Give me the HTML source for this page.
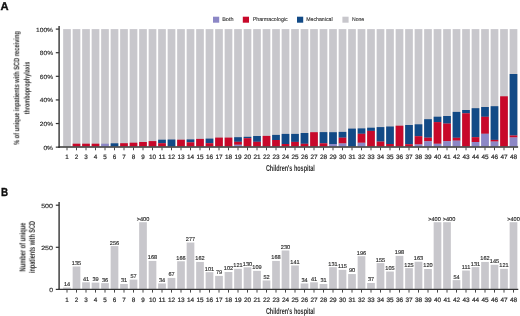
<!DOCTYPE html>
<html><head><meta charset="utf-8"><style>
html,body{margin:0;padding:0;background:#fff;}
body{width:520px;height:316px;overflow:hidden;}
svg{display:block;font-family:"Liberation Sans",sans-serif;}
text{will-change:transform;text-rendering:geometricPrecision;}
</style></head><body>
<svg width="520" height="316" viewBox="0 0 520 316">
<text x="0.50" y="9.90" font-size="11.2" text-anchor="start" font-weight="bold" fill="#111" stroke="#111" stroke-width="0.35">A</text>
<text x="0.90" y="195.60" font-size="11.6" text-anchor="start" font-weight="bold" fill="#111" stroke="#111" stroke-width="0.35" textLength="7.10" lengthAdjust="spacingAndGlyphs">B</text>
<rect x="213.00" y="16.70" width="6.20" height="6.00" fill="#8c87c6"/>
<text x="222.20" y="21.30" font-size="5.4" text-anchor="start" font-weight="normal" fill="#2e2e2e" stroke="#2e2e2e" stroke-width="0.1" textLength="11.30" lengthAdjust="spacingAndGlyphs">Both</text>
<rect x="242.80" y="16.70" width="6.20" height="6.00" fill="#c8082a"/>
<text x="252.70" y="21.30" font-size="5.4" text-anchor="start" font-weight="normal" fill="#2e2e2e" stroke="#2e2e2e" stroke-width="0.1" textLength="35.00" lengthAdjust="spacingAndGlyphs">Pharmacologic</text>
<rect x="297.00" y="16.70" width="6.20" height="6.00" fill="#124a86"/>
<text x="306.20" y="21.30" font-size="5.4" text-anchor="start" font-weight="normal" fill="#2e2e2e" stroke="#2e2e2e" stroke-width="0.1" textLength="26.40" lengthAdjust="spacingAndGlyphs">Mechanical</text>
<rect x="342.40" y="16.70" width="6.20" height="6.00" fill="#c8c7cc"/>
<text x="352.00" y="21.30" font-size="5.4" text-anchor="start" font-weight="normal" fill="#2e2e2e" stroke="#2e2e2e" stroke-width="0.1" textLength="12.20" lengthAdjust="spacingAndGlyphs">None</text>
<rect x="63.15" y="29.10" width="7.70" height="117.30" fill="#c8c7cc"/>
<rect x="72.65" y="29.10" width="7.70" height="117.30" fill="#c8c7cc"/>
<rect x="72.65" y="143.70" width="7.70" height="2.70" fill="#c8082a"/>
<rect x="82.15" y="29.10" width="7.70" height="117.30" fill="#c8c7cc"/>
<rect x="82.15" y="143.70" width="7.70" height="2.70" fill="#c8082a"/>
<rect x="91.65" y="29.10" width="7.70" height="117.30" fill="#c8c7cc"/>
<rect x="91.65" y="143.70" width="7.70" height="2.70" fill="#c8082a"/>
<rect x="101.15" y="29.10" width="7.70" height="117.30" fill="#c8c7cc"/>
<rect x="101.15" y="143.70" width="7.70" height="2.70" fill="#8c87c6"/>
<rect x="110.65" y="29.10" width="7.70" height="117.30" fill="#c8c7cc"/>
<rect x="110.65" y="143.30" width="7.70" height="3.10" fill="#124a86"/>
<rect x="120.15" y="29.10" width="7.70" height="117.30" fill="#c8c7cc"/>
<rect x="120.15" y="143.20" width="7.70" height="3.20" fill="#c8082a"/>
<rect x="129.65" y="29.10" width="7.70" height="117.30" fill="#c8c7cc"/>
<rect x="129.65" y="142.70" width="7.70" height="3.70" fill="#c8082a"/>
<rect x="139.15" y="29.10" width="7.70" height="117.30" fill="#c8c7cc"/>
<rect x="139.15" y="142.00" width="7.70" height="4.40" fill="#c8082a"/>
<rect x="148.65" y="29.10" width="7.70" height="117.30" fill="#c8c7cc"/>
<rect x="148.65" y="141.10" width="7.70" height="5.30" fill="#c8082a"/>
<rect x="158.15" y="29.10" width="7.70" height="117.30" fill="#c8c7cc"/>
<rect x="158.15" y="139.70" width="7.70" height="3.50" fill="#124a86"/>
<rect x="158.15" y="143.20" width="7.70" height="3.20" fill="#c8082a"/>
<rect x="167.65" y="29.10" width="7.70" height="117.30" fill="#c8c7cc"/>
<rect x="167.65" y="139.50" width="7.70" height="6.90" fill="#124a86"/>
<rect x="177.15" y="29.10" width="7.70" height="117.30" fill="#c8c7cc"/>
<rect x="177.15" y="139.70" width="7.70" height="6.70" fill="#c8082a"/>
<rect x="186.65" y="29.10" width="7.70" height="117.30" fill="#c8c7cc"/>
<rect x="186.65" y="139.40" width="7.70" height="2.90" fill="#124a86"/>
<rect x="186.65" y="142.30" width="7.70" height="4.10" fill="#c8082a"/>
<rect x="196.15" y="29.10" width="7.70" height="117.30" fill="#c8c7cc"/>
<rect x="196.15" y="138.90" width="7.70" height="7.50" fill="#c8082a"/>
<rect x="205.65" y="29.10" width="7.70" height="117.30" fill="#c8c7cc"/>
<rect x="205.65" y="138.60" width="7.70" height="4.60" fill="#124a86"/>
<rect x="205.65" y="143.20" width="7.70" height="3.20" fill="#c8082a"/>
<rect x="215.15" y="29.10" width="7.70" height="117.30" fill="#c8c7cc"/>
<rect x="215.15" y="137.60" width="7.70" height="8.80" fill="#c8082a"/>
<rect x="224.65" y="29.10" width="7.70" height="117.30" fill="#c8c7cc"/>
<rect x="224.65" y="137.60" width="7.70" height="8.80" fill="#c8082a"/>
<rect x="234.15" y="29.10" width="7.70" height="117.30" fill="#c8c7cc"/>
<rect x="234.15" y="137.20" width="7.70" height="4.60" fill="#124a86"/>
<rect x="234.15" y="141.80" width="7.70" height="3.00" fill="#c8082a"/>
<rect x="234.15" y="144.80" width="7.70" height="1.60" fill="#8c87c6"/>
<rect x="243.65" y="29.10" width="7.70" height="117.30" fill="#c8c7cc"/>
<rect x="243.65" y="136.80" width="7.70" height="1.40" fill="#124a86"/>
<rect x="243.65" y="138.20" width="7.70" height="8.20" fill="#c8082a"/>
<rect x="253.15" y="29.10" width="7.70" height="117.30" fill="#c8c7cc"/>
<rect x="253.15" y="136.00" width="7.70" height="5.80" fill="#124a86"/>
<rect x="253.15" y="141.80" width="7.70" height="4.60" fill="#c8082a"/>
<rect x="262.65" y="29.10" width="7.70" height="117.30" fill="#c8c7cc"/>
<rect x="262.65" y="135.90" width="7.70" height="10.50" fill="#c8082a"/>
<rect x="272.15" y="29.10" width="7.70" height="117.30" fill="#c8c7cc"/>
<rect x="272.15" y="134.90" width="7.70" height="5.10" fill="#124a86"/>
<rect x="272.15" y="140.00" width="7.70" height="6.40" fill="#c8082a"/>
<rect x="281.65" y="29.10" width="7.70" height="117.30" fill="#c8c7cc"/>
<rect x="281.65" y="133.90" width="7.70" height="10.10" fill="#124a86"/>
<rect x="281.65" y="144.00" width="7.70" height="2.40" fill="#c8082a"/>
<rect x="291.15" y="29.10" width="7.70" height="117.30" fill="#c8c7cc"/>
<rect x="291.15" y="133.90" width="7.70" height="8.00" fill="#124a86"/>
<rect x="291.15" y="141.90" width="7.70" height="4.50" fill="#c8082a"/>
<rect x="300.65" y="29.10" width="7.70" height="117.30" fill="#c8c7cc"/>
<rect x="300.65" y="133.00" width="7.70" height="10.80" fill="#124a86"/>
<rect x="300.65" y="143.80" width="7.70" height="2.60" fill="#c8082a"/>
<rect x="310.15" y="29.10" width="7.70" height="117.30" fill="#c8c7cc"/>
<rect x="310.15" y="132.20" width="7.70" height="14.20" fill="#c8082a"/>
<rect x="319.65" y="29.10" width="7.70" height="117.30" fill="#c8c7cc"/>
<rect x="319.65" y="132.10" width="7.70" height="11.20" fill="#124a86"/>
<rect x="319.65" y="143.30" width="7.70" height="3.10" fill="#c8082a"/>
<rect x="329.15" y="29.10" width="7.70" height="117.30" fill="#c8c7cc"/>
<rect x="329.15" y="132.20" width="7.70" height="11.80" fill="#124a86"/>
<rect x="329.15" y="144.00" width="7.70" height="2.40" fill="#8c87c6"/>
<rect x="338.65" y="29.10" width="7.70" height="117.30" fill="#c8c7cc"/>
<rect x="338.65" y="131.90" width="7.70" height="5.80" fill="#124a86"/>
<rect x="338.65" y="137.70" width="7.70" height="5.80" fill="#c8082a"/>
<rect x="338.65" y="143.50" width="7.70" height="2.90" fill="#8c87c6"/>
<rect x="348.15" y="29.10" width="7.70" height="117.30" fill="#c8c7cc"/>
<rect x="348.15" y="128.60" width="7.70" height="17.80" fill="#124a86"/>
<rect x="357.65" y="29.10" width="7.70" height="117.30" fill="#c8c7cc"/>
<rect x="357.65" y="128.40" width="7.70" height="5.40" fill="#124a86"/>
<rect x="357.65" y="133.80" width="7.70" height="9.00" fill="#c8082a"/>
<rect x="357.65" y="142.80" width="7.70" height="3.60" fill="#8c87c6"/>
<rect x="367.15" y="29.10" width="7.70" height="117.30" fill="#c8c7cc"/>
<rect x="367.15" y="127.70" width="7.70" height="3.20" fill="#124a86"/>
<rect x="367.15" y="130.90" width="7.70" height="15.50" fill="#c8082a"/>
<rect x="376.65" y="29.10" width="7.70" height="117.30" fill="#c8c7cc"/>
<rect x="376.65" y="127.10" width="7.70" height="14.50" fill="#124a86"/>
<rect x="376.65" y="141.60" width="7.70" height="4.80" fill="#c8082a"/>
<rect x="386.15" y="29.10" width="7.70" height="117.30" fill="#c8c7cc"/>
<rect x="386.15" y="126.50" width="7.70" height="17.50" fill="#124a86"/>
<rect x="386.15" y="144.00" width="7.70" height="2.40" fill="#c8082a"/>
<rect x="395.65" y="29.10" width="7.70" height="117.30" fill="#c8c7cc"/>
<rect x="395.65" y="125.70" width="7.70" height="20.70" fill="#c8082a"/>
<rect x="405.15" y="29.10" width="7.70" height="117.30" fill="#c8c7cc"/>
<rect x="405.15" y="125.00" width="7.70" height="19.20" fill="#124a86"/>
<rect x="405.15" y="144.20" width="7.70" height="2.20" fill="#c8082a"/>
<rect x="414.65" y="29.10" width="7.70" height="117.30" fill="#c8c7cc"/>
<rect x="414.65" y="124.30" width="7.70" height="11.90" fill="#124a86"/>
<rect x="414.65" y="136.20" width="7.70" height="8.30" fill="#c8082a"/>
<rect x="414.65" y="144.50" width="7.70" height="1.90" fill="#8c87c6"/>
<rect x="424.15" y="29.10" width="7.70" height="117.30" fill="#c8c7cc"/>
<rect x="424.15" y="119.20" width="7.70" height="18.50" fill="#124a86"/>
<rect x="424.15" y="137.70" width="7.70" height="3.60" fill="#c8082a"/>
<rect x="424.15" y="141.30" width="7.70" height="5.10" fill="#8c87c6"/>
<rect x="433.65" y="29.10" width="7.70" height="117.30" fill="#c8c7cc"/>
<rect x="433.65" y="116.70" width="7.70" height="5.40" fill="#124a86"/>
<rect x="433.65" y="122.10" width="7.70" height="21.70" fill="#c8082a"/>
<rect x="433.65" y="143.80" width="7.70" height="2.60" fill="#8c87c6"/>
<rect x="443.15" y="29.10" width="7.70" height="117.30" fill="#c8c7cc"/>
<rect x="443.15" y="116.00" width="7.70" height="7.60" fill="#124a86"/>
<rect x="443.15" y="123.60" width="7.70" height="17.60" fill="#c8082a"/>
<rect x="443.15" y="141.20" width="7.70" height="5.20" fill="#8c87c6"/>
<rect x="452.65" y="29.10" width="7.70" height="117.30" fill="#c8c7cc"/>
<rect x="452.65" y="111.90" width="7.70" height="25.90" fill="#124a86"/>
<rect x="452.65" y="137.80" width="7.70" height="2.90" fill="#c8082a"/>
<rect x="452.65" y="140.70" width="7.70" height="5.70" fill="#8c87c6"/>
<rect x="462.15" y="29.10" width="7.70" height="117.30" fill="#c8c7cc"/>
<rect x="462.15" y="110.00" width="7.70" height="3.30" fill="#124a86"/>
<rect x="462.15" y="113.30" width="7.70" height="33.10" fill="#c8082a"/>
<rect x="471.65" y="29.10" width="7.70" height="117.30" fill="#c8c7cc"/>
<rect x="471.65" y="108.20" width="7.70" height="29.00" fill="#124a86"/>
<rect x="471.65" y="137.20" width="7.70" height="4.80" fill="#c8082a"/>
<rect x="471.65" y="142.00" width="7.70" height="4.40" fill="#8c87c6"/>
<rect x="481.15" y="29.10" width="7.70" height="117.30" fill="#c8c7cc"/>
<rect x="481.15" y="107.00" width="7.70" height="9.80" fill="#124a86"/>
<rect x="481.15" y="116.80" width="7.70" height="17.00" fill="#c8082a"/>
<rect x="481.15" y="133.80" width="7.70" height="12.60" fill="#8c87c6"/>
<rect x="490.65" y="29.10" width="7.70" height="117.30" fill="#c8c7cc"/>
<rect x="490.65" y="106.20" width="7.70" height="33.70" fill="#124a86"/>
<rect x="490.65" y="139.90" width="7.70" height="1.70" fill="#c8082a"/>
<rect x="490.65" y="141.60" width="7.70" height="4.80" fill="#8c87c6"/>
<rect x="500.15" y="29.10" width="7.70" height="117.30" fill="#c8c7cc"/>
<rect x="500.15" y="96.30" width="7.70" height="50.10" fill="#c8082a"/>
<rect x="509.65" y="29.10" width="7.70" height="117.30" fill="#c8c7cc"/>
<rect x="509.65" y="74.00" width="7.70" height="61.50" fill="#124a86"/>
<rect x="509.65" y="135.50" width="7.70" height="2.00" fill="#c8082a"/>
<rect x="509.65" y="137.50" width="7.70" height="8.90" fill="#8c87c6"/>
<line x1="59.10" y1="26.00" x2="59.10" y2="147.90" stroke="#333" stroke-width="1.4"/>
<line x1="58.40" y1="146.90" x2="518.10" y2="146.90" stroke="#333" stroke-width="1.5"/>
<line x1="55.80" y1="29.10" x2="59.10" y2="29.10" stroke="#333" stroke-width="1.2"/>
<text x="53.00" y="31.50" font-size="6.0" text-anchor="end" font-weight="normal" fill="#2e2e2e" stroke="#2e2e2e" stroke-width="0.15" textLength="17.00" lengthAdjust="spacingAndGlyphs">100%</text>
<line x1="55.80" y1="52.71" x2="59.10" y2="52.71" stroke="#333" stroke-width="1.2"/>
<text x="53.00" y="55.11" font-size="6.0" text-anchor="end" font-weight="normal" fill="#2e2e2e" stroke="#2e2e2e" stroke-width="0.15" textLength="13.20" lengthAdjust="spacingAndGlyphs">80%</text>
<line x1="55.80" y1="76.32" x2="59.10" y2="76.32" stroke="#333" stroke-width="1.2"/>
<text x="53.00" y="78.72" font-size="6.0" text-anchor="end" font-weight="normal" fill="#2e2e2e" stroke="#2e2e2e" stroke-width="0.15" textLength="13.20" lengthAdjust="spacingAndGlyphs">60%</text>
<line x1="55.80" y1="99.93" x2="59.10" y2="99.93" stroke="#333" stroke-width="1.2"/>
<text x="53.00" y="102.33" font-size="6.0" text-anchor="end" font-weight="normal" fill="#2e2e2e" stroke="#2e2e2e" stroke-width="0.15" textLength="13.20" lengthAdjust="spacingAndGlyphs">40%</text>
<line x1="55.80" y1="123.54" x2="59.10" y2="123.54" stroke="#333" stroke-width="1.2"/>
<text x="53.00" y="125.94" font-size="6.0" text-anchor="end" font-weight="normal" fill="#2e2e2e" stroke="#2e2e2e" stroke-width="0.15" textLength="13.20" lengthAdjust="spacingAndGlyphs">20%</text>
<line x1="55.80" y1="147.15" x2="59.10" y2="147.15" stroke="#333" stroke-width="1.2"/>
<text x="53.00" y="149.55" font-size="6.0" text-anchor="end" font-weight="normal" fill="#2e2e2e" stroke="#2e2e2e" stroke-width="0.15" textLength="9.60" lengthAdjust="spacingAndGlyphs">0%</text>
<line x1="67.00" y1="147.60" x2="67.00" y2="150.30" stroke="#333" stroke-width="0.9"/>
<text x="67.00" y="159.10" font-size="6.3" text-anchor="middle" font-weight="normal" fill="#2e2e2e" stroke="#2e2e2e" stroke-width="0.2">1</text>
<line x1="76.50" y1="147.60" x2="76.50" y2="150.30" stroke="#333" stroke-width="0.9"/>
<text x="76.50" y="159.10" font-size="6.3" text-anchor="middle" font-weight="normal" fill="#2e2e2e" stroke="#2e2e2e" stroke-width="0.2">2</text>
<line x1="86.00" y1="147.60" x2="86.00" y2="150.30" stroke="#333" stroke-width="0.9"/>
<text x="86.00" y="159.10" font-size="6.3" text-anchor="middle" font-weight="normal" fill="#2e2e2e" stroke="#2e2e2e" stroke-width="0.2">3</text>
<line x1="95.50" y1="147.60" x2="95.50" y2="150.30" stroke="#333" stroke-width="0.9"/>
<text x="95.50" y="159.10" font-size="6.3" text-anchor="middle" font-weight="normal" fill="#2e2e2e" stroke="#2e2e2e" stroke-width="0.2">4</text>
<line x1="105.00" y1="147.60" x2="105.00" y2="150.30" stroke="#333" stroke-width="0.9"/>
<text x="105.00" y="159.10" font-size="6.3" text-anchor="middle" font-weight="normal" fill="#2e2e2e" stroke="#2e2e2e" stroke-width="0.2">5</text>
<line x1="114.50" y1="147.60" x2="114.50" y2="150.30" stroke="#333" stroke-width="0.9"/>
<text x="114.50" y="159.10" font-size="6.3" text-anchor="middle" font-weight="normal" fill="#2e2e2e" stroke="#2e2e2e" stroke-width="0.2">6</text>
<line x1="124.00" y1="147.60" x2="124.00" y2="150.30" stroke="#333" stroke-width="0.9"/>
<text x="124.00" y="159.10" font-size="6.3" text-anchor="middle" font-weight="normal" fill="#2e2e2e" stroke="#2e2e2e" stroke-width="0.2">7</text>
<line x1="133.50" y1="147.60" x2="133.50" y2="150.30" stroke="#333" stroke-width="0.9"/>
<text x="133.50" y="159.10" font-size="6.3" text-anchor="middle" font-weight="normal" fill="#2e2e2e" stroke="#2e2e2e" stroke-width="0.2">8</text>
<line x1="143.00" y1="147.60" x2="143.00" y2="150.30" stroke="#333" stroke-width="0.9"/>
<text x="143.00" y="159.10" font-size="6.3" text-anchor="middle" font-weight="normal" fill="#2e2e2e" stroke="#2e2e2e" stroke-width="0.2">9</text>
<line x1="152.50" y1="147.60" x2="152.50" y2="150.30" stroke="#333" stroke-width="0.9"/>
<text x="152.50" y="159.10" font-size="6.3" text-anchor="middle" font-weight="normal" fill="#2e2e2e" stroke="#2e2e2e" stroke-width="0.2" textLength="7.20" lengthAdjust="spacingAndGlyphs">10</text>
<line x1="162.00" y1="147.60" x2="162.00" y2="150.30" stroke="#333" stroke-width="0.9"/>
<text x="162.00" y="159.10" font-size="6.3" text-anchor="middle" font-weight="normal" fill="#2e2e2e" stroke="#2e2e2e" stroke-width="0.2" textLength="7.20" lengthAdjust="spacingAndGlyphs">11</text>
<line x1="171.50" y1="147.60" x2="171.50" y2="150.30" stroke="#333" stroke-width="0.9"/>
<text x="171.50" y="159.10" font-size="6.3" text-anchor="middle" font-weight="normal" fill="#2e2e2e" stroke="#2e2e2e" stroke-width="0.2" textLength="7.20" lengthAdjust="spacingAndGlyphs">12</text>
<line x1="181.00" y1="147.60" x2="181.00" y2="150.30" stroke="#333" stroke-width="0.9"/>
<text x="181.00" y="159.10" font-size="6.3" text-anchor="middle" font-weight="normal" fill="#2e2e2e" stroke="#2e2e2e" stroke-width="0.2" textLength="7.20" lengthAdjust="spacingAndGlyphs">13</text>
<line x1="190.50" y1="147.60" x2="190.50" y2="150.30" stroke="#333" stroke-width="0.9"/>
<text x="190.50" y="159.10" font-size="6.3" text-anchor="middle" font-weight="normal" fill="#2e2e2e" stroke="#2e2e2e" stroke-width="0.2" textLength="7.20" lengthAdjust="spacingAndGlyphs">14</text>
<line x1="200.00" y1="147.60" x2="200.00" y2="150.30" stroke="#333" stroke-width="0.9"/>
<text x="200.00" y="159.10" font-size="6.3" text-anchor="middle" font-weight="normal" fill="#2e2e2e" stroke="#2e2e2e" stroke-width="0.2" textLength="7.20" lengthAdjust="spacingAndGlyphs">15</text>
<line x1="209.50" y1="147.60" x2="209.50" y2="150.30" stroke="#333" stroke-width="0.9"/>
<text x="209.50" y="159.10" font-size="6.3" text-anchor="middle" font-weight="normal" fill="#2e2e2e" stroke="#2e2e2e" stroke-width="0.2" textLength="7.20" lengthAdjust="spacingAndGlyphs">16</text>
<line x1="219.00" y1="147.60" x2="219.00" y2="150.30" stroke="#333" stroke-width="0.9"/>
<text x="219.00" y="159.10" font-size="6.3" text-anchor="middle" font-weight="normal" fill="#2e2e2e" stroke="#2e2e2e" stroke-width="0.2" textLength="7.20" lengthAdjust="spacingAndGlyphs">17</text>
<line x1="228.50" y1="147.60" x2="228.50" y2="150.30" stroke="#333" stroke-width="0.9"/>
<text x="228.50" y="159.10" font-size="6.3" text-anchor="middle" font-weight="normal" fill="#2e2e2e" stroke="#2e2e2e" stroke-width="0.2" textLength="7.20" lengthAdjust="spacingAndGlyphs">18</text>
<line x1="238.00" y1="147.60" x2="238.00" y2="150.30" stroke="#333" stroke-width="0.9"/>
<text x="238.00" y="159.10" font-size="6.3" text-anchor="middle" font-weight="normal" fill="#2e2e2e" stroke="#2e2e2e" stroke-width="0.2" textLength="7.20" lengthAdjust="spacingAndGlyphs">19</text>
<line x1="247.50" y1="147.60" x2="247.50" y2="150.30" stroke="#333" stroke-width="0.9"/>
<text x="247.50" y="159.10" font-size="6.3" text-anchor="middle" font-weight="normal" fill="#2e2e2e" stroke="#2e2e2e" stroke-width="0.2" textLength="7.20" lengthAdjust="spacingAndGlyphs">20</text>
<line x1="257.00" y1="147.60" x2="257.00" y2="150.30" stroke="#333" stroke-width="0.9"/>
<text x="257.00" y="159.10" font-size="6.3" text-anchor="middle" font-weight="normal" fill="#2e2e2e" stroke="#2e2e2e" stroke-width="0.2" textLength="7.20" lengthAdjust="spacingAndGlyphs">21</text>
<line x1="266.50" y1="147.60" x2="266.50" y2="150.30" stroke="#333" stroke-width="0.9"/>
<text x="266.50" y="159.10" font-size="6.3" text-anchor="middle" font-weight="normal" fill="#2e2e2e" stroke="#2e2e2e" stroke-width="0.2" textLength="7.20" lengthAdjust="spacingAndGlyphs">22</text>
<line x1="276.00" y1="147.60" x2="276.00" y2="150.30" stroke="#333" stroke-width="0.9"/>
<text x="276.00" y="159.10" font-size="6.3" text-anchor="middle" font-weight="normal" fill="#2e2e2e" stroke="#2e2e2e" stroke-width="0.2" textLength="7.20" lengthAdjust="spacingAndGlyphs">23</text>
<line x1="285.50" y1="147.60" x2="285.50" y2="150.30" stroke="#333" stroke-width="0.9"/>
<text x="285.50" y="159.10" font-size="6.3" text-anchor="middle" font-weight="normal" fill="#2e2e2e" stroke="#2e2e2e" stroke-width="0.2" textLength="7.20" lengthAdjust="spacingAndGlyphs">24</text>
<line x1="295.00" y1="147.60" x2="295.00" y2="150.30" stroke="#333" stroke-width="0.9"/>
<text x="295.00" y="159.10" font-size="6.3" text-anchor="middle" font-weight="normal" fill="#2e2e2e" stroke="#2e2e2e" stroke-width="0.2" textLength="7.20" lengthAdjust="spacingAndGlyphs">25</text>
<line x1="304.50" y1="147.60" x2="304.50" y2="150.30" stroke="#333" stroke-width="0.9"/>
<text x="304.50" y="159.10" font-size="6.3" text-anchor="middle" font-weight="normal" fill="#2e2e2e" stroke="#2e2e2e" stroke-width="0.2" textLength="7.20" lengthAdjust="spacingAndGlyphs">26</text>
<line x1="314.00" y1="147.60" x2="314.00" y2="150.30" stroke="#333" stroke-width="0.9"/>
<text x="314.00" y="159.10" font-size="6.3" text-anchor="middle" font-weight="normal" fill="#2e2e2e" stroke="#2e2e2e" stroke-width="0.2" textLength="7.20" lengthAdjust="spacingAndGlyphs">27</text>
<line x1="323.50" y1="147.60" x2="323.50" y2="150.30" stroke="#333" stroke-width="0.9"/>
<text x="323.50" y="159.10" font-size="6.3" text-anchor="middle" font-weight="normal" fill="#2e2e2e" stroke="#2e2e2e" stroke-width="0.2" textLength="7.20" lengthAdjust="spacingAndGlyphs">28</text>
<line x1="333.00" y1="147.60" x2="333.00" y2="150.30" stroke="#333" stroke-width="0.9"/>
<text x="333.00" y="159.10" font-size="6.3" text-anchor="middle" font-weight="normal" fill="#2e2e2e" stroke="#2e2e2e" stroke-width="0.2" textLength="7.20" lengthAdjust="spacingAndGlyphs">29</text>
<line x1="342.50" y1="147.60" x2="342.50" y2="150.30" stroke="#333" stroke-width="0.9"/>
<text x="342.50" y="159.10" font-size="6.3" text-anchor="middle" font-weight="normal" fill="#2e2e2e" stroke="#2e2e2e" stroke-width="0.2" textLength="7.20" lengthAdjust="spacingAndGlyphs">30</text>
<line x1="352.00" y1="147.60" x2="352.00" y2="150.30" stroke="#333" stroke-width="0.9"/>
<text x="352.00" y="159.10" font-size="6.3" text-anchor="middle" font-weight="normal" fill="#2e2e2e" stroke="#2e2e2e" stroke-width="0.2" textLength="7.20" lengthAdjust="spacingAndGlyphs">31</text>
<line x1="361.50" y1="147.60" x2="361.50" y2="150.30" stroke="#333" stroke-width="0.9"/>
<text x="361.50" y="159.10" font-size="6.3" text-anchor="middle" font-weight="normal" fill="#2e2e2e" stroke="#2e2e2e" stroke-width="0.2" textLength="7.20" lengthAdjust="spacingAndGlyphs">32</text>
<line x1="371.00" y1="147.60" x2="371.00" y2="150.30" stroke="#333" stroke-width="0.9"/>
<text x="371.00" y="159.10" font-size="6.3" text-anchor="middle" font-weight="normal" fill="#2e2e2e" stroke="#2e2e2e" stroke-width="0.2" textLength="7.20" lengthAdjust="spacingAndGlyphs">33</text>
<line x1="380.50" y1="147.60" x2="380.50" y2="150.30" stroke="#333" stroke-width="0.9"/>
<text x="380.50" y="159.10" font-size="6.3" text-anchor="middle" font-weight="normal" fill="#2e2e2e" stroke="#2e2e2e" stroke-width="0.2" textLength="7.20" lengthAdjust="spacingAndGlyphs">34</text>
<line x1="390.00" y1="147.60" x2="390.00" y2="150.30" stroke="#333" stroke-width="0.9"/>
<text x="390.00" y="159.10" font-size="6.3" text-anchor="middle" font-weight="normal" fill="#2e2e2e" stroke="#2e2e2e" stroke-width="0.2" textLength="7.20" lengthAdjust="spacingAndGlyphs">35</text>
<line x1="399.50" y1="147.60" x2="399.50" y2="150.30" stroke="#333" stroke-width="0.9"/>
<text x="399.50" y="159.10" font-size="6.3" text-anchor="middle" font-weight="normal" fill="#2e2e2e" stroke="#2e2e2e" stroke-width="0.2" textLength="7.20" lengthAdjust="spacingAndGlyphs">36</text>
<line x1="409.00" y1="147.60" x2="409.00" y2="150.30" stroke="#333" stroke-width="0.9"/>
<text x="409.00" y="159.10" font-size="6.3" text-anchor="middle" font-weight="normal" fill="#2e2e2e" stroke="#2e2e2e" stroke-width="0.2" textLength="7.20" lengthAdjust="spacingAndGlyphs">37</text>
<line x1="418.50" y1="147.60" x2="418.50" y2="150.30" stroke="#333" stroke-width="0.9"/>
<text x="418.50" y="159.10" font-size="6.3" text-anchor="middle" font-weight="normal" fill="#2e2e2e" stroke="#2e2e2e" stroke-width="0.2" textLength="7.20" lengthAdjust="spacingAndGlyphs">38</text>
<line x1="428.00" y1="147.60" x2="428.00" y2="150.30" stroke="#333" stroke-width="0.9"/>
<text x="428.00" y="159.10" font-size="6.3" text-anchor="middle" font-weight="normal" fill="#2e2e2e" stroke="#2e2e2e" stroke-width="0.2" textLength="7.20" lengthAdjust="spacingAndGlyphs">39</text>
<line x1="437.50" y1="147.60" x2="437.50" y2="150.30" stroke="#333" stroke-width="0.9"/>
<text x="437.50" y="159.10" font-size="6.3" text-anchor="middle" font-weight="normal" fill="#2e2e2e" stroke="#2e2e2e" stroke-width="0.2" textLength="7.20" lengthAdjust="spacingAndGlyphs">40</text>
<line x1="447.00" y1="147.60" x2="447.00" y2="150.30" stroke="#333" stroke-width="0.9"/>
<text x="447.00" y="159.10" font-size="6.3" text-anchor="middle" font-weight="normal" fill="#2e2e2e" stroke="#2e2e2e" stroke-width="0.2" textLength="7.20" lengthAdjust="spacingAndGlyphs">41</text>
<line x1="456.50" y1="147.60" x2="456.50" y2="150.30" stroke="#333" stroke-width="0.9"/>
<text x="456.50" y="159.10" font-size="6.3" text-anchor="middle" font-weight="normal" fill="#2e2e2e" stroke="#2e2e2e" stroke-width="0.2" textLength="7.20" lengthAdjust="spacingAndGlyphs">42</text>
<line x1="466.00" y1="147.60" x2="466.00" y2="150.30" stroke="#333" stroke-width="0.9"/>
<text x="466.00" y="159.10" font-size="6.3" text-anchor="middle" font-weight="normal" fill="#2e2e2e" stroke="#2e2e2e" stroke-width="0.2" textLength="7.20" lengthAdjust="spacingAndGlyphs">43</text>
<line x1="475.50" y1="147.60" x2="475.50" y2="150.30" stroke="#333" stroke-width="0.9"/>
<text x="475.50" y="159.10" font-size="6.3" text-anchor="middle" font-weight="normal" fill="#2e2e2e" stroke="#2e2e2e" stroke-width="0.2" textLength="7.20" lengthAdjust="spacingAndGlyphs">44</text>
<line x1="485.00" y1="147.60" x2="485.00" y2="150.30" stroke="#333" stroke-width="0.9"/>
<text x="485.00" y="159.10" font-size="6.3" text-anchor="middle" font-weight="normal" fill="#2e2e2e" stroke="#2e2e2e" stroke-width="0.2" textLength="7.20" lengthAdjust="spacingAndGlyphs">45</text>
<line x1="494.50" y1="147.60" x2="494.50" y2="150.30" stroke="#333" stroke-width="0.9"/>
<text x="494.50" y="159.10" font-size="6.3" text-anchor="middle" font-weight="normal" fill="#2e2e2e" stroke="#2e2e2e" stroke-width="0.2" textLength="7.20" lengthAdjust="spacingAndGlyphs">46</text>
<line x1="504.00" y1="147.60" x2="504.00" y2="150.30" stroke="#333" stroke-width="0.9"/>
<text x="504.00" y="159.10" font-size="6.3" text-anchor="middle" font-weight="normal" fill="#2e2e2e" stroke="#2e2e2e" stroke-width="0.2" textLength="7.20" lengthAdjust="spacingAndGlyphs">47</text>
<line x1="513.50" y1="147.60" x2="513.50" y2="150.30" stroke="#333" stroke-width="0.9"/>
<text x="513.50" y="159.10" font-size="6.3" text-anchor="middle" font-weight="normal" fill="#2e2e2e" stroke="#2e2e2e" stroke-width="0.2" textLength="7.20" lengthAdjust="spacingAndGlyphs">48</text>
<text x="290.40" y="171.30" font-size="8.6" text-anchor="middle" font-weight="bold" fill="#2e2e2e" textLength="49.00" lengthAdjust="spacingAndGlyphs">Children's hospital</text>
<g transform="translate(19.2,88.2) rotate(-90)">
<text x="0.00" y="0.00" font-size="7.8" text-anchor="middle" font-weight="bold" fill="#2e2e2e" textLength="113.70" lengthAdjust="spacingAndGlyphs">% of unique inpatients with SCD receiving</text>
</g>
<g transform="translate(29.5,88.0) rotate(-90)">
<text x="0.00" y="0.00" font-size="7.8" text-anchor="middle" font-weight="bold" fill="#2e2e2e" textLength="52.40" lengthAdjust="spacingAndGlyphs">thromboprophylaxis</text>
</g>
<rect x="63.15" y="287.50" width="7.70" height="1.40" fill="#c8c7cc"/>
<text x="67.00" y="285.60" font-size="5.6" text-anchor="middle" font-weight="normal" fill="#2e2e2e" stroke="#2e2e2e" stroke-width="0.15">14</text>
<rect x="72.65" y="266.47" width="7.70" height="22.43" fill="#c8c7cc"/>
<text x="76.50" y="264.92" font-size="5.6" text-anchor="middle" font-weight="normal" fill="#2e2e2e" stroke="#2e2e2e" stroke-width="0.15">135</text>
<rect x="82.15" y="282.30" width="7.70" height="6.60" fill="#c8c7cc"/>
<text x="86.00" y="280.75" font-size="5.6" text-anchor="middle" font-weight="normal" fill="#2e2e2e" stroke="#2e2e2e" stroke-width="0.15">41</text>
<rect x="91.65" y="282.63" width="7.70" height="6.27" fill="#c8c7cc"/>
<text x="95.50" y="281.08" font-size="5.6" text-anchor="middle" font-weight="normal" fill="#2e2e2e" stroke="#2e2e2e" stroke-width="0.15">39</text>
<rect x="101.15" y="283.14" width="7.70" height="5.76" fill="#c8c7cc"/>
<text x="105.00" y="281.59" font-size="5.6" text-anchor="middle" font-weight="normal" fill="#2e2e2e" stroke="#2e2e2e" stroke-width="0.15">36</text>
<rect x="110.65" y="246.09" width="7.70" height="42.81" fill="#c8c7cc"/>
<text x="114.50" y="244.54" font-size="5.6" text-anchor="middle" font-weight="normal" fill="#2e2e2e" stroke="#2e2e2e" stroke-width="0.15">256</text>
<rect x="120.15" y="283.98" width="7.70" height="4.92" fill="#c8c7cc"/>
<text x="124.00" y="282.43" font-size="5.6" text-anchor="middle" font-weight="normal" fill="#2e2e2e" stroke="#2e2e2e" stroke-width="0.15">31</text>
<rect x="129.65" y="279.60" width="7.70" height="9.30" fill="#c8c7cc"/>
<text x="133.50" y="278.05" font-size="5.6" text-anchor="middle" font-weight="normal" fill="#2e2e2e" stroke="#2e2e2e" stroke-width="0.15">57</text>
<rect x="139.15" y="222.20" width="7.70" height="66.70" fill="#c8c7cc"/>
<text x="143.00" y="220.65" font-size="5.6" text-anchor="middle" font-weight="normal" fill="#2e2e2e" stroke="#2e2e2e" stroke-width="0.15">&gt;400</text>
<rect x="148.65" y="260.91" width="7.70" height="27.99" fill="#c8c7cc"/>
<text x="152.50" y="259.36" font-size="5.6" text-anchor="middle" font-weight="normal" fill="#2e2e2e" stroke="#2e2e2e" stroke-width="0.15">168</text>
<rect x="158.15" y="283.47" width="7.70" height="5.43" fill="#c8c7cc"/>
<text x="162.00" y="281.92" font-size="5.6" text-anchor="middle" font-weight="normal" fill="#2e2e2e" stroke="#2e2e2e" stroke-width="0.15">34</text>
<rect x="167.65" y="277.92" width="7.70" height="10.98" fill="#c8c7cc"/>
<text x="171.50" y="276.37" font-size="5.6" text-anchor="middle" font-weight="normal" fill="#2e2e2e" stroke="#2e2e2e" stroke-width="0.15">67</text>
<rect x="177.15" y="261.25" width="7.70" height="27.65" fill="#c8c7cc"/>
<text x="181.00" y="259.70" font-size="5.6" text-anchor="middle" font-weight="normal" fill="#2e2e2e" stroke="#2e2e2e" stroke-width="0.15">166</text>
<rect x="186.65" y="242.55" width="7.70" height="46.35" fill="#c8c7cc"/>
<text x="190.50" y="241.00" font-size="5.6" text-anchor="middle" font-weight="normal" fill="#2e2e2e" stroke="#2e2e2e" stroke-width="0.15">277</text>
<rect x="196.15" y="261.92" width="7.70" height="26.98" fill="#c8c7cc"/>
<text x="200.00" y="260.37" font-size="5.6" text-anchor="middle" font-weight="normal" fill="#2e2e2e" stroke="#2e2e2e" stroke-width="0.15">162</text>
<rect x="205.65" y="272.19" width="7.70" height="16.71" fill="#c8c7cc"/>
<text x="209.50" y="270.64" font-size="5.6" text-anchor="middle" font-weight="normal" fill="#2e2e2e" stroke="#2e2e2e" stroke-width="0.15">101</text>
<rect x="215.15" y="275.90" width="7.70" height="13.00" fill="#c8c7cc"/>
<text x="219.00" y="274.35" font-size="5.6" text-anchor="middle" font-weight="normal" fill="#2e2e2e" stroke="#2e2e2e" stroke-width="0.15">79</text>
<rect x="224.65" y="272.02" width="7.70" height="16.88" fill="#c8c7cc"/>
<text x="228.50" y="270.47" font-size="5.6" text-anchor="middle" font-weight="normal" fill="#2e2e2e" stroke="#2e2e2e" stroke-width="0.15">102</text>
<rect x="234.15" y="268.82" width="7.70" height="20.08" fill="#c8c7cc"/>
<text x="238.00" y="267.27" font-size="5.6" text-anchor="middle" font-weight="normal" fill="#2e2e2e" stroke="#2e2e2e" stroke-width="0.15">121</text>
<rect x="243.65" y="267.31" width="7.70" height="21.59" fill="#c8c7cc"/>
<text x="247.50" y="265.76" font-size="5.6" text-anchor="middle" font-weight="normal" fill="#2e2e2e" stroke="#2e2e2e" stroke-width="0.15">130</text>
<rect x="253.15" y="270.84" width="7.70" height="18.06" fill="#c8c7cc"/>
<text x="257.00" y="269.29" font-size="5.6" text-anchor="middle" font-weight="normal" fill="#2e2e2e" stroke="#2e2e2e" stroke-width="0.15">109</text>
<rect x="262.65" y="280.44" width="7.70" height="8.46" fill="#c8c7cc"/>
<text x="266.50" y="278.89" font-size="5.6" text-anchor="middle" font-weight="normal" fill="#2e2e2e" stroke="#2e2e2e" stroke-width="0.15">52</text>
<rect x="272.15" y="260.91" width="7.70" height="27.99" fill="#c8c7cc"/>
<text x="276.00" y="259.36" font-size="5.6" text-anchor="middle" font-weight="normal" fill="#2e2e2e" stroke="#2e2e2e" stroke-width="0.15">168</text>
<rect x="281.65" y="250.47" width="7.70" height="38.43" fill="#c8c7cc"/>
<text x="285.50" y="248.92" font-size="5.6" text-anchor="middle" font-weight="normal" fill="#2e2e2e" stroke="#2e2e2e" stroke-width="0.15">230</text>
<rect x="291.15" y="265.46" width="7.70" height="23.44" fill="#c8c7cc"/>
<text x="295.00" y="263.91" font-size="5.6" text-anchor="middle" font-weight="normal" fill="#2e2e2e" stroke="#2e2e2e" stroke-width="0.15">141</text>
<rect x="300.65" y="283.47" width="7.70" height="5.43" fill="#c8c7cc"/>
<text x="304.50" y="281.92" font-size="5.6" text-anchor="middle" font-weight="normal" fill="#2e2e2e" stroke="#2e2e2e" stroke-width="0.15">34</text>
<rect x="310.15" y="282.30" width="7.70" height="6.60" fill="#c8c7cc"/>
<text x="314.00" y="280.75" font-size="5.6" text-anchor="middle" font-weight="normal" fill="#2e2e2e" stroke="#2e2e2e" stroke-width="0.15">41</text>
<rect x="319.65" y="283.98" width="7.70" height="4.92" fill="#c8c7cc"/>
<text x="323.50" y="282.43" font-size="5.6" text-anchor="middle" font-weight="normal" fill="#2e2e2e" stroke="#2e2e2e" stroke-width="0.15">31</text>
<rect x="329.15" y="267.14" width="7.70" height="21.76" fill="#c8c7cc"/>
<text x="333.00" y="265.59" font-size="5.6" text-anchor="middle" font-weight="normal" fill="#2e2e2e" stroke="#2e2e2e" stroke-width="0.15">131</text>
<rect x="338.65" y="269.83" width="7.70" height="19.07" fill="#c8c7cc"/>
<text x="342.50" y="268.28" font-size="5.6" text-anchor="middle" font-weight="normal" fill="#2e2e2e" stroke="#2e2e2e" stroke-width="0.15">115</text>
<rect x="348.15" y="274.04" width="7.70" height="14.86" fill="#c8c7cc"/>
<text x="352.00" y="272.49" font-size="5.6" text-anchor="middle" font-weight="normal" fill="#2e2e2e" stroke="#2e2e2e" stroke-width="0.15">90</text>
<rect x="357.65" y="256.19" width="7.70" height="32.71" fill="#c8c7cc"/>
<text x="361.50" y="254.64" font-size="5.6" text-anchor="middle" font-weight="normal" fill="#2e2e2e" stroke="#2e2e2e" stroke-width="0.15">196</text>
<rect x="367.15" y="282.97" width="7.70" height="5.93" fill="#c8c7cc"/>
<text x="371.00" y="281.42" font-size="5.6" text-anchor="middle" font-weight="normal" fill="#2e2e2e" stroke="#2e2e2e" stroke-width="0.15">37</text>
<rect x="376.65" y="263.10" width="7.70" height="25.80" fill="#c8c7cc"/>
<text x="380.50" y="261.55" font-size="5.6" text-anchor="middle" font-weight="normal" fill="#2e2e2e" stroke="#2e2e2e" stroke-width="0.15">155</text>
<rect x="386.15" y="271.52" width="7.70" height="17.38" fill="#c8c7cc"/>
<text x="390.00" y="269.97" font-size="5.6" text-anchor="middle" font-weight="normal" fill="#2e2e2e" stroke="#2e2e2e" stroke-width="0.15">105</text>
<rect x="395.65" y="255.86" width="7.70" height="33.04" fill="#c8c7cc"/>
<text x="399.50" y="254.31" font-size="5.6" text-anchor="middle" font-weight="normal" fill="#2e2e2e" stroke="#2e2e2e" stroke-width="0.15">198</text>
<rect x="405.15" y="268.15" width="7.70" height="20.75" fill="#c8c7cc"/>
<text x="409.00" y="266.60" font-size="5.6" text-anchor="middle" font-weight="normal" fill="#2e2e2e" stroke="#2e2e2e" stroke-width="0.15">125</text>
<rect x="414.65" y="261.75" width="7.70" height="27.15" fill="#c8c7cc"/>
<text x="418.50" y="260.20" font-size="5.6" text-anchor="middle" font-weight="normal" fill="#2e2e2e" stroke="#2e2e2e" stroke-width="0.15">163</text>
<rect x="424.15" y="268.99" width="7.70" height="19.91" fill="#c8c7cc"/>
<text x="428.00" y="267.44" font-size="5.6" text-anchor="middle" font-weight="normal" fill="#2e2e2e" stroke="#2e2e2e" stroke-width="0.15">120</text>
<rect x="433.65" y="222.20" width="7.70" height="66.70" fill="#c8c7cc"/>
<text x="434.50" y="220.65" font-size="5.6" text-anchor="middle" font-weight="normal" fill="#2e2e2e" stroke="#2e2e2e" stroke-width="0.15">&gt;400</text>
<rect x="443.15" y="222.20" width="7.70" height="66.70" fill="#c8c7cc"/>
<text x="449.00" y="220.65" font-size="5.6" text-anchor="middle" font-weight="normal" fill="#2e2e2e" stroke="#2e2e2e" stroke-width="0.15">&gt;400</text>
<rect x="452.65" y="280.11" width="7.70" height="8.79" fill="#c8c7cc"/>
<text x="456.50" y="278.56" font-size="5.6" text-anchor="middle" font-weight="normal" fill="#2e2e2e" stroke="#2e2e2e" stroke-width="0.15">54</text>
<rect x="462.15" y="270.51" width="7.70" height="18.39" fill="#c8c7cc"/>
<text x="466.00" y="268.96" font-size="5.6" text-anchor="middle" font-weight="normal" fill="#2e2e2e" stroke="#2e2e2e" stroke-width="0.15">111</text>
<rect x="471.65" y="267.14" width="7.70" height="21.76" fill="#c8c7cc"/>
<text x="475.50" y="265.59" font-size="5.6" text-anchor="middle" font-weight="normal" fill="#2e2e2e" stroke="#2e2e2e" stroke-width="0.15">131</text>
<rect x="481.15" y="261.92" width="7.70" height="26.98" fill="#c8c7cc"/>
<text x="485.00" y="260.37" font-size="5.6" text-anchor="middle" font-weight="normal" fill="#2e2e2e" stroke="#2e2e2e" stroke-width="0.15">162</text>
<rect x="490.65" y="264.78" width="7.70" height="24.12" fill="#c8c7cc"/>
<text x="494.50" y="263.23" font-size="5.6" text-anchor="middle" font-weight="normal" fill="#2e2e2e" stroke="#2e2e2e" stroke-width="0.15">145</text>
<rect x="500.15" y="268.82" width="7.70" height="20.08" fill="#c8c7cc"/>
<text x="504.00" y="267.27" font-size="5.6" text-anchor="middle" font-weight="normal" fill="#2e2e2e" stroke="#2e2e2e" stroke-width="0.15">121</text>
<rect x="509.65" y="222.20" width="7.70" height="66.70" fill="#c8c7cc"/>
<text x="513.50" y="220.65" font-size="5.6" text-anchor="middle" font-weight="normal" fill="#2e2e2e" stroke="#2e2e2e" stroke-width="0.15">&gt;400</text>
<line x1="59.10" y1="202.10" x2="59.10" y2="289.90" stroke="#333" stroke-width="1.4"/>
<line x1="58.40" y1="289.40" x2="518.30" y2="289.40" stroke="#333" stroke-width="1.1"/>
<line x1="55.80" y1="205.20" x2="59.10" y2="205.20" stroke="#333" stroke-width="1.2"/>
<text x="53.00" y="207.60" font-size="6.0" text-anchor="end" font-weight="normal" fill="#2e2e2e" stroke="#2e2e2e" stroke-width="0.15" textLength="11.80" lengthAdjust="spacingAndGlyphs">500</text>
<line x1="55.80" y1="247.30" x2="59.10" y2="247.30" stroke="#333" stroke-width="1.2"/>
<text x="53.00" y="249.70" font-size="6.0" text-anchor="end" font-weight="normal" fill="#2e2e2e" stroke="#2e2e2e" stroke-width="0.15" textLength="11.80" lengthAdjust="spacingAndGlyphs">250</text>
<line x1="55.80" y1="289.40" x2="59.10" y2="289.40" stroke="#333" stroke-width="1.2"/>
<text x="53.00" y="291.80" font-size="6.0" text-anchor="end" font-weight="normal" fill="#2e2e2e" stroke="#2e2e2e" stroke-width="0.15" textLength="3.80" lengthAdjust="spacingAndGlyphs">0</text>
<line x1="67.00" y1="289.90" x2="67.00" y2="292.60" stroke="#333" stroke-width="0.9"/>
<text x="67.00" y="301.50" font-size="6.3" text-anchor="middle" font-weight="normal" fill="#2e2e2e" stroke="#2e2e2e" stroke-width="0.2">1</text>
<line x1="76.50" y1="289.90" x2="76.50" y2="292.60" stroke="#333" stroke-width="0.9"/>
<text x="76.50" y="301.50" font-size="6.3" text-anchor="middle" font-weight="normal" fill="#2e2e2e" stroke="#2e2e2e" stroke-width="0.2">2</text>
<line x1="86.00" y1="289.90" x2="86.00" y2="292.60" stroke="#333" stroke-width="0.9"/>
<text x="86.00" y="301.50" font-size="6.3" text-anchor="middle" font-weight="normal" fill="#2e2e2e" stroke="#2e2e2e" stroke-width="0.2">3</text>
<line x1="95.50" y1="289.90" x2="95.50" y2="292.60" stroke="#333" stroke-width="0.9"/>
<text x="95.50" y="301.50" font-size="6.3" text-anchor="middle" font-weight="normal" fill="#2e2e2e" stroke="#2e2e2e" stroke-width="0.2">4</text>
<line x1="105.00" y1="289.90" x2="105.00" y2="292.60" stroke="#333" stroke-width="0.9"/>
<text x="105.00" y="301.50" font-size="6.3" text-anchor="middle" font-weight="normal" fill="#2e2e2e" stroke="#2e2e2e" stroke-width="0.2">5</text>
<line x1="114.50" y1="289.90" x2="114.50" y2="292.60" stroke="#333" stroke-width="0.9"/>
<text x="114.50" y="301.50" font-size="6.3" text-anchor="middle" font-weight="normal" fill="#2e2e2e" stroke="#2e2e2e" stroke-width="0.2">6</text>
<line x1="124.00" y1="289.90" x2="124.00" y2="292.60" stroke="#333" stroke-width="0.9"/>
<text x="124.00" y="301.50" font-size="6.3" text-anchor="middle" font-weight="normal" fill="#2e2e2e" stroke="#2e2e2e" stroke-width="0.2">7</text>
<line x1="133.50" y1="289.90" x2="133.50" y2="292.60" stroke="#333" stroke-width="0.9"/>
<text x="133.50" y="301.50" font-size="6.3" text-anchor="middle" font-weight="normal" fill="#2e2e2e" stroke="#2e2e2e" stroke-width="0.2">8</text>
<line x1="143.00" y1="289.90" x2="143.00" y2="292.60" stroke="#333" stroke-width="0.9"/>
<text x="143.00" y="301.50" font-size="6.3" text-anchor="middle" font-weight="normal" fill="#2e2e2e" stroke="#2e2e2e" stroke-width="0.2">9</text>
<line x1="152.50" y1="289.90" x2="152.50" y2="292.60" stroke="#333" stroke-width="0.9"/>
<text x="152.50" y="301.50" font-size="6.3" text-anchor="middle" font-weight="normal" fill="#2e2e2e" stroke="#2e2e2e" stroke-width="0.2" textLength="7.20" lengthAdjust="spacingAndGlyphs">10</text>
<line x1="162.00" y1="289.90" x2="162.00" y2="292.60" stroke="#333" stroke-width="0.9"/>
<text x="162.00" y="301.50" font-size="6.3" text-anchor="middle" font-weight="normal" fill="#2e2e2e" stroke="#2e2e2e" stroke-width="0.2" textLength="7.20" lengthAdjust="spacingAndGlyphs">11</text>
<line x1="171.50" y1="289.90" x2="171.50" y2="292.60" stroke="#333" stroke-width="0.9"/>
<text x="171.50" y="301.50" font-size="6.3" text-anchor="middle" font-weight="normal" fill="#2e2e2e" stroke="#2e2e2e" stroke-width="0.2" textLength="7.20" lengthAdjust="spacingAndGlyphs">12</text>
<line x1="181.00" y1="289.90" x2="181.00" y2="292.60" stroke="#333" stroke-width="0.9"/>
<text x="181.00" y="301.50" font-size="6.3" text-anchor="middle" font-weight="normal" fill="#2e2e2e" stroke="#2e2e2e" stroke-width="0.2" textLength="7.20" lengthAdjust="spacingAndGlyphs">13</text>
<line x1="190.50" y1="289.90" x2="190.50" y2="292.60" stroke="#333" stroke-width="0.9"/>
<text x="190.50" y="301.50" font-size="6.3" text-anchor="middle" font-weight="normal" fill="#2e2e2e" stroke="#2e2e2e" stroke-width="0.2" textLength="7.20" lengthAdjust="spacingAndGlyphs">14</text>
<line x1="200.00" y1="289.90" x2="200.00" y2="292.60" stroke="#333" stroke-width="0.9"/>
<text x="200.00" y="301.50" font-size="6.3" text-anchor="middle" font-weight="normal" fill="#2e2e2e" stroke="#2e2e2e" stroke-width="0.2" textLength="7.20" lengthAdjust="spacingAndGlyphs">15</text>
<line x1="209.50" y1="289.90" x2="209.50" y2="292.60" stroke="#333" stroke-width="0.9"/>
<text x="209.50" y="301.50" font-size="6.3" text-anchor="middle" font-weight="normal" fill="#2e2e2e" stroke="#2e2e2e" stroke-width="0.2" textLength="7.20" lengthAdjust="spacingAndGlyphs">16</text>
<line x1="219.00" y1="289.90" x2="219.00" y2="292.60" stroke="#333" stroke-width="0.9"/>
<text x="219.00" y="301.50" font-size="6.3" text-anchor="middle" font-weight="normal" fill="#2e2e2e" stroke="#2e2e2e" stroke-width="0.2" textLength="7.20" lengthAdjust="spacingAndGlyphs">17</text>
<line x1="228.50" y1="289.90" x2="228.50" y2="292.60" stroke="#333" stroke-width="0.9"/>
<text x="228.50" y="301.50" font-size="6.3" text-anchor="middle" font-weight="normal" fill="#2e2e2e" stroke="#2e2e2e" stroke-width="0.2" textLength="7.20" lengthAdjust="spacingAndGlyphs">18</text>
<line x1="238.00" y1="289.90" x2="238.00" y2="292.60" stroke="#333" stroke-width="0.9"/>
<text x="238.00" y="301.50" font-size="6.3" text-anchor="middle" font-weight="normal" fill="#2e2e2e" stroke="#2e2e2e" stroke-width="0.2" textLength="7.20" lengthAdjust="spacingAndGlyphs">19</text>
<line x1="247.50" y1="289.90" x2="247.50" y2="292.60" stroke="#333" stroke-width="0.9"/>
<text x="247.50" y="301.50" font-size="6.3" text-anchor="middle" font-weight="normal" fill="#2e2e2e" stroke="#2e2e2e" stroke-width="0.2" textLength="7.20" lengthAdjust="spacingAndGlyphs">20</text>
<line x1="257.00" y1="289.90" x2="257.00" y2="292.60" stroke="#333" stroke-width="0.9"/>
<text x="257.00" y="301.50" font-size="6.3" text-anchor="middle" font-weight="normal" fill="#2e2e2e" stroke="#2e2e2e" stroke-width="0.2" textLength="7.20" lengthAdjust="spacingAndGlyphs">21</text>
<line x1="266.50" y1="289.90" x2="266.50" y2="292.60" stroke="#333" stroke-width="0.9"/>
<text x="266.50" y="301.50" font-size="6.3" text-anchor="middle" font-weight="normal" fill="#2e2e2e" stroke="#2e2e2e" stroke-width="0.2" textLength="7.20" lengthAdjust="spacingAndGlyphs">22</text>
<line x1="276.00" y1="289.90" x2="276.00" y2="292.60" stroke="#333" stroke-width="0.9"/>
<text x="276.00" y="301.50" font-size="6.3" text-anchor="middle" font-weight="normal" fill="#2e2e2e" stroke="#2e2e2e" stroke-width="0.2" textLength="7.20" lengthAdjust="spacingAndGlyphs">23</text>
<line x1="285.50" y1="289.90" x2="285.50" y2="292.60" stroke="#333" stroke-width="0.9"/>
<text x="285.50" y="301.50" font-size="6.3" text-anchor="middle" font-weight="normal" fill="#2e2e2e" stroke="#2e2e2e" stroke-width="0.2" textLength="7.20" lengthAdjust="spacingAndGlyphs">24</text>
<line x1="295.00" y1="289.90" x2="295.00" y2="292.60" stroke="#333" stroke-width="0.9"/>
<text x="295.00" y="301.50" font-size="6.3" text-anchor="middle" font-weight="normal" fill="#2e2e2e" stroke="#2e2e2e" stroke-width="0.2" textLength="7.20" lengthAdjust="spacingAndGlyphs">25</text>
<line x1="304.50" y1="289.90" x2="304.50" y2="292.60" stroke="#333" stroke-width="0.9"/>
<text x="304.50" y="301.50" font-size="6.3" text-anchor="middle" font-weight="normal" fill="#2e2e2e" stroke="#2e2e2e" stroke-width="0.2" textLength="7.20" lengthAdjust="spacingAndGlyphs">26</text>
<line x1="314.00" y1="289.90" x2="314.00" y2="292.60" stroke="#333" stroke-width="0.9"/>
<text x="314.00" y="301.50" font-size="6.3" text-anchor="middle" font-weight="normal" fill="#2e2e2e" stroke="#2e2e2e" stroke-width="0.2" textLength="7.20" lengthAdjust="spacingAndGlyphs">27</text>
<line x1="323.50" y1="289.90" x2="323.50" y2="292.60" stroke="#333" stroke-width="0.9"/>
<text x="323.50" y="301.50" font-size="6.3" text-anchor="middle" font-weight="normal" fill="#2e2e2e" stroke="#2e2e2e" stroke-width="0.2" textLength="7.20" lengthAdjust="spacingAndGlyphs">28</text>
<line x1="333.00" y1="289.90" x2="333.00" y2="292.60" stroke="#333" stroke-width="0.9"/>
<text x="333.00" y="301.50" font-size="6.3" text-anchor="middle" font-weight="normal" fill="#2e2e2e" stroke="#2e2e2e" stroke-width="0.2" textLength="7.20" lengthAdjust="spacingAndGlyphs">29</text>
<line x1="342.50" y1="289.90" x2="342.50" y2="292.60" stroke="#333" stroke-width="0.9"/>
<text x="342.50" y="301.50" font-size="6.3" text-anchor="middle" font-weight="normal" fill="#2e2e2e" stroke="#2e2e2e" stroke-width="0.2" textLength="7.20" lengthAdjust="spacingAndGlyphs">30</text>
<line x1="352.00" y1="289.90" x2="352.00" y2="292.60" stroke="#333" stroke-width="0.9"/>
<text x="352.00" y="301.50" font-size="6.3" text-anchor="middle" font-weight="normal" fill="#2e2e2e" stroke="#2e2e2e" stroke-width="0.2" textLength="7.20" lengthAdjust="spacingAndGlyphs">31</text>
<line x1="361.50" y1="289.90" x2="361.50" y2="292.60" stroke="#333" stroke-width="0.9"/>
<text x="361.50" y="301.50" font-size="6.3" text-anchor="middle" font-weight="normal" fill="#2e2e2e" stroke="#2e2e2e" stroke-width="0.2" textLength="7.20" lengthAdjust="spacingAndGlyphs">32</text>
<line x1="371.00" y1="289.90" x2="371.00" y2="292.60" stroke="#333" stroke-width="0.9"/>
<text x="371.00" y="301.50" font-size="6.3" text-anchor="middle" font-weight="normal" fill="#2e2e2e" stroke="#2e2e2e" stroke-width="0.2" textLength="7.20" lengthAdjust="spacingAndGlyphs">33</text>
<line x1="380.50" y1="289.90" x2="380.50" y2="292.60" stroke="#333" stroke-width="0.9"/>
<text x="380.50" y="301.50" font-size="6.3" text-anchor="middle" font-weight="normal" fill="#2e2e2e" stroke="#2e2e2e" stroke-width="0.2" textLength="7.20" lengthAdjust="spacingAndGlyphs">34</text>
<line x1="390.00" y1="289.90" x2="390.00" y2="292.60" stroke="#333" stroke-width="0.9"/>
<text x="390.00" y="301.50" font-size="6.3" text-anchor="middle" font-weight="normal" fill="#2e2e2e" stroke="#2e2e2e" stroke-width="0.2" textLength="7.20" lengthAdjust="spacingAndGlyphs">35</text>
<line x1="399.50" y1="289.90" x2="399.50" y2="292.60" stroke="#333" stroke-width="0.9"/>
<text x="399.50" y="301.50" font-size="6.3" text-anchor="middle" font-weight="normal" fill="#2e2e2e" stroke="#2e2e2e" stroke-width="0.2" textLength="7.20" lengthAdjust="spacingAndGlyphs">36</text>
<line x1="409.00" y1="289.90" x2="409.00" y2="292.60" stroke="#333" stroke-width="0.9"/>
<text x="409.00" y="301.50" font-size="6.3" text-anchor="middle" font-weight="normal" fill="#2e2e2e" stroke="#2e2e2e" stroke-width="0.2" textLength="7.20" lengthAdjust="spacingAndGlyphs">37</text>
<line x1="418.50" y1="289.90" x2="418.50" y2="292.60" stroke="#333" stroke-width="0.9"/>
<text x="418.50" y="301.50" font-size="6.3" text-anchor="middle" font-weight="normal" fill="#2e2e2e" stroke="#2e2e2e" stroke-width="0.2" textLength="7.20" lengthAdjust="spacingAndGlyphs">38</text>
<line x1="428.00" y1="289.90" x2="428.00" y2="292.60" stroke="#333" stroke-width="0.9"/>
<text x="428.00" y="301.50" font-size="6.3" text-anchor="middle" font-weight="normal" fill="#2e2e2e" stroke="#2e2e2e" stroke-width="0.2" textLength="7.20" lengthAdjust="spacingAndGlyphs">39</text>
<line x1="437.50" y1="289.90" x2="437.50" y2="292.60" stroke="#333" stroke-width="0.9"/>
<text x="437.50" y="301.50" font-size="6.3" text-anchor="middle" font-weight="normal" fill="#2e2e2e" stroke="#2e2e2e" stroke-width="0.2" textLength="7.20" lengthAdjust="spacingAndGlyphs">40</text>
<line x1="447.00" y1="289.90" x2="447.00" y2="292.60" stroke="#333" stroke-width="0.9"/>
<text x="447.00" y="301.50" font-size="6.3" text-anchor="middle" font-weight="normal" fill="#2e2e2e" stroke="#2e2e2e" stroke-width="0.2" textLength="7.20" lengthAdjust="spacingAndGlyphs">41</text>
<line x1="456.50" y1="289.90" x2="456.50" y2="292.60" stroke="#333" stroke-width="0.9"/>
<text x="456.50" y="301.50" font-size="6.3" text-anchor="middle" font-weight="normal" fill="#2e2e2e" stroke="#2e2e2e" stroke-width="0.2" textLength="7.20" lengthAdjust="spacingAndGlyphs">42</text>
<line x1="466.00" y1="289.90" x2="466.00" y2="292.60" stroke="#333" stroke-width="0.9"/>
<text x="466.00" y="301.50" font-size="6.3" text-anchor="middle" font-weight="normal" fill="#2e2e2e" stroke="#2e2e2e" stroke-width="0.2" textLength="7.20" lengthAdjust="spacingAndGlyphs">43</text>
<line x1="475.50" y1="289.90" x2="475.50" y2="292.60" stroke="#333" stroke-width="0.9"/>
<text x="475.50" y="301.50" font-size="6.3" text-anchor="middle" font-weight="normal" fill="#2e2e2e" stroke="#2e2e2e" stroke-width="0.2" textLength="7.20" lengthAdjust="spacingAndGlyphs">44</text>
<line x1="485.00" y1="289.90" x2="485.00" y2="292.60" stroke="#333" stroke-width="0.9"/>
<text x="485.00" y="301.50" font-size="6.3" text-anchor="middle" font-weight="normal" fill="#2e2e2e" stroke="#2e2e2e" stroke-width="0.2" textLength="7.20" lengthAdjust="spacingAndGlyphs">45</text>
<line x1="494.50" y1="289.90" x2="494.50" y2="292.60" stroke="#333" stroke-width="0.9"/>
<text x="494.50" y="301.50" font-size="6.3" text-anchor="middle" font-weight="normal" fill="#2e2e2e" stroke="#2e2e2e" stroke-width="0.2" textLength="7.20" lengthAdjust="spacingAndGlyphs">46</text>
<line x1="504.00" y1="289.90" x2="504.00" y2="292.60" stroke="#333" stroke-width="0.9"/>
<text x="504.00" y="301.50" font-size="6.3" text-anchor="middle" font-weight="normal" fill="#2e2e2e" stroke="#2e2e2e" stroke-width="0.2" textLength="7.20" lengthAdjust="spacingAndGlyphs">47</text>
<line x1="513.50" y1="289.90" x2="513.50" y2="292.60" stroke="#333" stroke-width="0.9"/>
<text x="513.50" y="301.50" font-size="6.3" text-anchor="middle" font-weight="normal" fill="#2e2e2e" stroke="#2e2e2e" stroke-width="0.2" textLength="7.20" lengthAdjust="spacingAndGlyphs">48</text>
<text x="290.40" y="313.50" font-size="8.6" text-anchor="middle" font-weight="bold" fill="#2e2e2e" textLength="49.00" lengthAdjust="spacingAndGlyphs">Children's hospital</text>
<g transform="translate(25.4,247.2) rotate(-90)">
<text x="0.00" y="0.00" font-size="8.4" text-anchor="middle" font-weight="bold" fill="#2e2e2e" textLength="49.00" lengthAdjust="spacingAndGlyphs">Number of unique</text>
</g>
<g transform="translate(34.8,247.0) rotate(-90)">
<text x="0.00" y="0.00" font-size="8.4" text-anchor="middle" font-weight="bold" fill="#2e2e2e" textLength="52.20" lengthAdjust="spacingAndGlyphs">inpatients with SCD</text>
</g>
</svg>
</body></html>
